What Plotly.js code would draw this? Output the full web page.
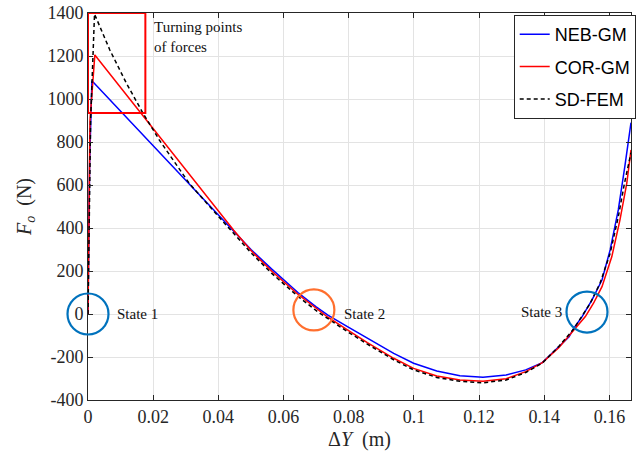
<!DOCTYPE html>
<html>
<head>
<meta charset="utf-8">
<script src="https://cdn.plot.ly/plotly-3.0.1.min.js"></script>
<style>html,body{margin:0;padding:0;background:#fff;}#chart{width:636px;height:457px;}</style>
</head>
<body>
<div id="chart"></div>
<script>
// Displacement (m) and force (N)
const nebX = [0, 0.0005, 0.0012, 0.044, 0.050, 0.0563, 0.0644, 0.0699, 0.0736, 0.0796, 0.0857, 0.0938, 0.0999, 0.107, 0.1141, 0.1212, 0.1283, 0.1343, 0.1394, 0.1445, 0.1476, 0.149, 0.1516, 0.1546, 0.1577, 0.1602, 0.1627, 0.1647, 0.1666];
const nebY = [0, 700, 1085, 395, 300, 210, 100, 34, -5, -59, -113, -183, -229, -265, -287, -294, -284, -260, -226, -152, -106, -67, -12, 65, 158, 298, 484, 685, 890];
const corX = [0, 0.0006, 0.0021, 0.0447, 0.050, 0.0563, 0.0644, 0.0705, 0.0736, 0.0796, 0.0857, 0.0938, 0.0999, 0.107, 0.1141, 0.1212, 0.1283, 0.1343, 0.1394, 0.1445, 0.149, 0.1526, 0.1551, 0.1577, 0.1607, 0.1632, 0.1653, 0.1666];
const corY = [0, 900, 1205, 390, 295, 200, 92, 19, -15, -74, -133, -206, -253, -288, -307, -313, -301, -268, -226, -156, -78, -12, 50, 127, 266, 437, 608, 763];
const sdX = [0, 0.0008, 0.0020, 0.0067, 0.0118, 0.0168, 0.0219, 0.031, 0.0432, 0.050, 0.0563, 0.0644, 0.0705, 0.0736, 0.0796, 0.0857, 0.0938, 0.0999, 0.107, 0.1141, 0.1212, 0.1283, 0.1343, 0.1394, 0.1445, 0.149, 0.1516, 0.1541, 0.1571, 0.1602, 0.1627, 0.1646, 0.1666];
const sdY = [0, 900, 1395, 1228, 1073, 936, 809, 609, 400, 285, 190, 82, 10, -22, -82, -140, -213, -260, -295, -313, -320, -307, -272, -228, -150, -70, -12, 50, 143, 282, 452, 608, 750];
const seriesNames = ['NEB-GM', 'COR-GM', 'SD-FEM'];
const xTicks = [0, 0.02, 0.04, 0.06, 0.08, 0.1, 0.12, 0.14, 0.16];
const xTickText = ['0', '0.02', '0.04', '0.06', '0.08', '0.1', '0.12', '0.14', '0.16'];
const yTicks = [-400, -200, 0, 200, 400, 600, 800, 1000, 1200, 1400];
const yTickText = ['-400', '-200', '0', '200', '400', '600', '800', '1000', '1200', '1400'];
const stateX = [0, 0.0693, 0.1531];
const stateY = [0, 19, 9];
const stateLabels = ['State 1', 'State 2', 'State 3'];
const boxX = [0, 0.0176];
const boxY = [935, 1400];
const xRange = [0, 0.1666];
const yRange = [-400, 1400];

const serif = 'Liberation Serif, Times New Roman, serif';
const traces = [
  {x: nebX, y: nebY, name: seriesNames[0], legendgroup: 'a', mode: 'lines', line: {color: '#0000ff', width: 1.5}},
  {x: corX, y: corY, name: seriesNames[1], legendgroup: 'b', mode: 'lines', line: {color: '#ff0000', width: 1.5}},
  {x: sdX, y: sdY, name: seriesNames[2], legendgroup: 'c', mode: 'lines', line: {color: '#000000', width: 1.5, dash: '4px,3px'}}
];

const stateColors = ['#0072BD', '#FF6F2E', '#0072BD'];
const shapes = [
  {type: 'rect', xref: 'x', yref: 'y', x0: boxX[0], x1: boxX[1], y0: boxY[0], y1: boxY[1], line: {color: '#ff0000', width: 2}}
];
// circles are placed in paper space (not clipped by the plot area), converted from data values
stateX.forEach((sx, i) => {
  const px = (sx - xRange[0]) / (xRange[1] - xRange[0]);
  const py = (stateY[i] - yRange[0]) / (yRange[1] - yRange[0]);
  shapes.push({type: 'circle', xref: 'paper', yref: 'paper', xsizemode: 'pixel', ysizemode: 'pixel',
    xanchor: px, yanchor: py, x0: -20.5, x1: 20.5, y0: -20.5, y1: 20.5,
    line: {color: stateColors[i], width: 2.2}});
});

const annotations = [
  {xref: 'x', yref: 'y', x: 0.0197, y: 1287, text: 'Turning points<br>of forces', showarrow: false,
   xanchor: 'left', yanchor: 'middle', align: 'left', font: {family: serif, size: 15, color: '#111'}},
  {xref: 'x', yref: 'y', x: stateX[0], y: stateY[0], xshift: 27, text: stateLabels[0], showarrow: false, xanchor: 'left', font: {family: serif, size: 15, color: '#111'}},
  {xref: 'x', yref: 'y', x: stateX[1], y: stateY[1], xshift: 28, yshift: -4, text: stateLabels[1], showarrow: false, xanchor: 'left', font: {family: serif, size: 15, color: '#111'}},
  {xref: 'x', yref: 'y', x: stateX[2], y: stateY[2], xshift: -23, text: stateLabels[2], showarrow: false, xanchor: 'right', font: {family: serif, size: 15, color: '#111'}}
];

const axisCommon = {
  showgrid: true, gridcolor: '#e3e3e3', gridwidth: 1, zeroline: false,
  showline: true, linecolor: '#262626', linewidth: 1, mirror: 'ticks',
  ticks: 'inside', ticklen: 5, tickcolor: '#262626',
  tickfont: {family: serif, size: 18, color: '#262626'}
};

const layout = {
  width: 636, height: 457,
  margin: {l: 88, r: 0, t: 13, b: 57},
  paper_bgcolor: '#fff', plot_bgcolor: '#fff',
  showlegend: true,
  legend: {x: 0.784, y: 0.995, xanchor: 'left', yanchor: 'top', bgcolor: '#fff', bordercolor: '#262626', borderwidth: 1,
    font: {family: 'Liberation Sans, Arial, sans-serif', size: 18, color: '#000'}, tracegroupgap: 6, itemwidth: 30},
  xaxis: Object.assign({}, axisCommon, {range: xRange, tickvals: xTicks, ticktext: xTickText,
    title: {text: 'Δ<i>Y</i>  (m)', font: {family: serif, size: 20, color: '#262626'}, standoff: 6}}),
  yaxis: Object.assign({}, axisCommon, {range: yRange, tickvals: yTicks, ticktext: yTickText,
    title: {text: '<i>F</i><sub><i>o</i></sub>  (N)', font: {family: serif, size: 20, color: '#262626'}, standoff: 10}}),
  shapes: shapes,
  annotations: annotations
};

Plotly.newPlot('chart', traces, layout, {displayModeBar: false, staticPlot: true});
</script>
</body>
</html>
